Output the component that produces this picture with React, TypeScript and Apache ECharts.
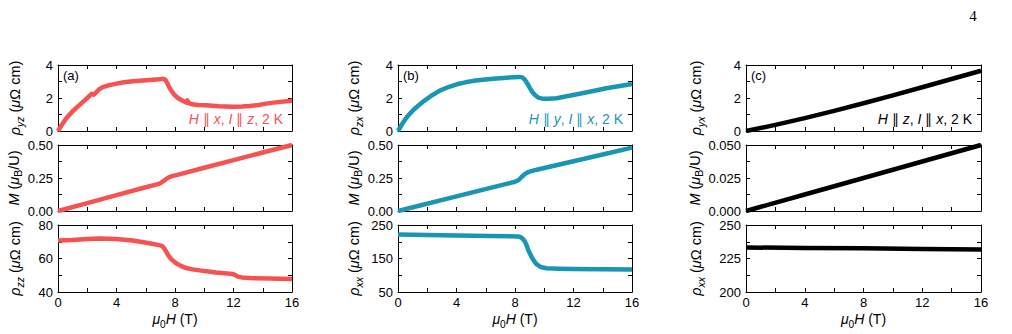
import React, { useEffect, useRef } from "react";
import * as echarts from "echarts";

// ---------- data (field in T, value) ----------
const rhoYZ_a: [number, number][] = [
  [0, 0], [0.15, 0.22], [0.3, 0.42], [0.57, 0.77], [1.0, 1.2], [1.48, 1.58], [2.0, 2.0], [2.3, 2.25], [2.45, 2.2],
  [2.6, 2.33], [2.8, 2.52], [3.07, 2.66], [3.5, 2.78], [4.0, 2.87], [4.5, 2.95], [5.13, 3.02], [6.26, 3.09],
  [6.95, 3.13], [7.2, 3.17], [7.35, 3.1], [7.5, 2.85], [7.63, 2.6], [7.8, 2.38], [7.97, 2.18], [8.2, 2.0],
  [8.43, 1.88], [8.77, 1.72], [8.85, 1.85], [8.95, 1.68], [9.2, 1.62], [9.6, 1.58], [10.1, 1.56],
  [11.0, 1.5], [11.96, 1.47], [12.6, 1.48], [13.1, 1.52], [13.7, 1.58], [14.24, 1.66], [15.0, 1.75], [16, 1.84],
];
const magX_a: [number, number][] = [
  [0, 0], [2, 0.06], [4, 0.12], [6, 0.18], [6.7, 0.2], [7.0, 0.21], [7.2, 0.226], [7.4, 0.243],
  [7.6, 0.256], [7.8, 0.264], [8.1, 0.272], [10, 0.328], [12, 0.385], [14, 0.443], [16, 0.5],
];
const rhoZZ_a: [number, number][] = [
  [0, 70.7], [1, 71.0], [2, 71.6], [2.85, 72.0], [4, 71.7], [5.1, 70.7], [6.26, 69.1], [7.06, 67.7],
  [7.2, 66.8], [7.35, 64.8], [7.52, 62.2], [7.74, 59.6], [8.08, 57.2], [8.4, 55.6], [8.77, 54.3],
  [9.2, 53.5], [9.68, 52.9], [10.8, 51.7], [11.96, 50.7], [12.1, 50.2], [12.3, 49.2], [12.6, 48.7],
  [13.1, 48.3], [14.5, 48.0], [16, 47.7],
];
const rhoZX_b: [number, number][] = [
  [0, 0], [0.2, 0.3], [0.39, 0.57], [0.6, 0.83], [0.84, 1.07], [1.05, 1.27], [1.3, 1.47], [1.75, 1.8],
  [2.3, 2.15], [2.89, 2.46], [3.5, 2.68], [4.02, 2.83], [4.6, 2.95], [5.16, 3.04], [6.3, 3.15],
  [7.43, 3.23], [8.3, 3.28], [8.5, 3.25], [8.68, 3.1], [8.85, 2.87], [9.02, 2.6], [9.2, 2.35],
  [9.4, 2.15], [9.6, 2.02], [9.93, 1.95], [10.3, 1.95], [10.84, 1.99], [11.98, 2.18], [13.1, 2.38],
  [14.25, 2.59], [16, 2.85],
];
const magY_b: [number, number][] = [
  [0, 0], [4, 0.111], [8, 0.222], [8.25, 0.235], [8.45, 0.258], [8.7, 0.282], [8.95, 0.297],
  [9.3, 0.308], [9.7, 0.318], [12, 0.377], [14, 0.428], [16, 0.48],
];
const rhoXX_b: [number, number][] = [
  [0, 222], [2, 220.5], [4.02, 218.6], [6.3, 217.3], [8.2, 216], [8.4, 213.5], [8.55, 208], [8.68, 200.5],
  [8.8, 189], [8.9, 175.7], [9.1, 158], [9.25, 146], [9.45, 134], [9.7, 126], [9.9, 123], [10.16, 120.8],
  [11, 119.5], [11.98, 118.8], [14, 118], [16, 117],
];
const rhoYX_c: [number, number][] = [
  [0, 0], [2, 0.37], [4, 0.78], [6, 1.22], [8, 1.68], [10, 2.16], [12, 2.65], [14, 3.15], [16, 3.65],
];
const magZ_c: [number, number][] = [
  [0, 0], [4, 0.0125], [8, 0.025], [12, 0.0375], [16, 0.05],
];
const rhoXX_c: [number, number][] = [
  [0, 233.2], [4, 232.9], [8, 232.6], [12, 232.0], [16, 231.7],
];

// axis ranges: [min, max, tick interval, label step]
const xRange = [0, 16, 2, 4];
const yRanges = [
  [[0, 4, 1, 2], [0, 0.5, 0.125, 0.25], [40, 80, 10, 20]],
  [[0, 4, 1, 2], [0, 0.5, 0.125, 0.25], [50, 250, 50, 100]],
  [[0, 4, 1, 2], [0, 0.05, 0.0125, 0.025], [200, 250, 12.5, 25]],
];
const labelDecimals = [[0, 2, 0], [0, 2, 0], [0, 3, 0]];

const panelLetters = ["(a)", "(b)", "(c)"];
const conditions = [
  "{i|H} {n|∥} {i|x}{n|, }{i|I} {n|∥} {i|z}{n|, 2 K}",
  "{i|H} {n|∥} {i|y}{n|, }{i|I} {n|∥} {i|x}{n|, 2 K}",
  "{i|H} {n|∥} {i|z}{n|, }{i|I} {n|∥} {i|x}{n|, 2 K}",
];
const yNames = [
  ["{i|ρ}{si|yz} {n|(}{i|μ}{n|Ω cm)}", "{i|M} {n|(}{i|μ}{sn|B}{n|/U)}", "{i|ρ}{si|zz} {n|(}{i|μ}{n|Ω cm)}"],
  ["{i|ρ}{si|zx} {n|(}{i|μ}{n|Ω cm)}", "{i|M} {n|(}{i|μ}{sn|B}{n|/U)}", "{i|ρ}{si|xx} {n|(}{i|μ}{n|Ω cm)}"],
  ["{i|ρ}{si|yx} {n|(}{i|μ}{n|Ω cm)}", "{i|M} {n|(}{i|μ}{sn|B}{n|/U)}", "{i|ρ}{si|xx} {n|(}{i|μ}{n|Ω cm)}"],
];
const xName = "{i|μ}{sn|0}{i|H} {n|(T)}";
const seriesData = [
  [rhoYZ_a, magX_a, rhoZZ_a],
  [rhoZX_b, magY_b, rhoXX_b],
  [rhoYX_c, magZ_c, rhoXX_c],
];
const colColors = ["#f75252", "#1996b1", "#000000"];

// ---------- layout ----------
const FONT = "'Liberation Sans', Arial, sans-serif";
const colLeft = [58, 398, 746];
const colWidth = [234, 234, 235];
const rowTop = [65, 145, 225];
const rowHeight = [66, 66, 67];
const yNameGap = [33, 34, 40];

const rich = (size: number, color: string) => ({
  i: { fontStyle: "italic", fontSize: size, fontFamily: FONT, color, lineHeight: 20 },
  n: { fontSize: size, fontFamily: FONT, color, lineHeight: 20 },
  si: { fontStyle: "italic", fontSize: size * 0.72, fontFamily: FONT, color, verticalAlign: "bottom", lineHeight: 20 },
  sn: { fontSize: size * 0.72, fontFamily: FONT, color, verticalAlign: "bottom", lineHeight: 20 },
});

function isMultiple(v: number, step: number, base: number) {
  const r = (v - base) / step;
  return Math.abs(r - Math.round(r)) < 1e-6;
}

export default function App() {
  const ref = useRef<HTMLDivElement>(null);
  useEffect(() => {
    document.body.style.margin = "0";
    const chart = echarts.init(ref.current!, null, { renderer: "svg" });
    const grids: any[] = [];
    const xAxes: any[] = [];
    const yAxes: any[] = [];
    const series: any[] = [];
    const graphics: any[] = [];
    const axisLine = { show: true, onZero: false, lineStyle: { color: "#000", width: 1 } };
    const axisTick = { show: true, inside: true, length: 4, lineStyle: { color: "#000", width: 1 } };

    for (let c = 0; c < 3; c++) {
      for (let r = 0; r < 3; r++) {
        const g = c * 3 + r;
        grids.push({ left: colLeft[c], top: rowTop[r], width: colWidth[c], height: rowHeight[r], containLabel: false });
        const [xmin, xmax, xint, xstep] = xRange;
        xAxes.push({
          gridIndex: g, type: "value", position: "bottom", min: xmin, max: xmax, interval: xint,
          axisLine, axisTick, splitLine: { show: false },
          axisLabel: {
            show: r === 2, margin: 4, color: "#000", fontSize: 13, fontFamily: FONT,
            formatter: (v: number) => (isMultiple(v, xstep, xmin) ? String(v) : ""),
          },
          name: r === 2 ? xName : "", nameLocation: "middle", nameGap: 17,
          nameTextStyle: { fontSize: 14, fontFamily: FONT, color: "#000", rich: rich(14, "#000") },
        });
        xAxes.push({
          gridIndex: g, type: "value", position: "top", min: xmin, max: xmax, interval: xint,
          axisLine, axisTick, splitLine: { show: false }, axisLabel: { show: false },
        });
        const [ymin, ymax, yint, ystep] = yRanges[c][r];
        const dec = labelDecimals[c][r];
        yAxes.push({
          gridIndex: g, type: "value", position: "left", min: ymin, max: ymax, interval: yint,
          axisLine, axisTick, splitLine: { show: false },
          axisLabel: {
            margin: 5, color: "#000", fontSize: 13, fontFamily: FONT,
            formatter: (v: number) => (isMultiple(v, ystep, ymin) ? v.toFixed(dec) : ""),
          },
          name: yNames[c][r], nameLocation: "middle", nameRotate: 90, nameGap: yNameGap[c],
          nameTextStyle: { fontSize: 14.5, fontFamily: FONT, color: "#000", rich: rich(14.5, "#000") },
        });
        yAxes.push({
          gridIndex: g, type: "value", position: "right", min: ymin, max: ymax, interval: yint,
          axisLine, axisTick, splitLine: { show: false }, axisLabel: { show: false },
        });
        series.push({
          type: "line", xAxisIndex: 2 * g, yAxisIndex: 2 * g, data: seriesData[c][r],
          showSymbol: false, smooth: false,
          lineStyle: { color: colColors[c], width: 4.5, join: "round", cap: "butt" }, itemStyle: { color: colColors[c] },
          clip: true, silent: true,
        });
      }
      graphics.push({
        type: "text", left: colLeft[c] + 5, top: rowTop[0] + 4,
        style: { text: panelLetters[c], fontSize: 13, fontFamily: FONT, fill: "#000" },
      });
      graphics.push({
        type: "text", x: colLeft[c] + colWidth[c] - 9, y: rowTop[0] + 54,
        style: {
          text: conditions[c], align: "right", verticalAlign: "middle", fontSize: 14, fontFamily: FONT,
          fill: colColors[c], rich: rich(14, colColors[c]),
        },
      });
    }
    graphics.push({
      type: "text", x: 973, y: 16,
      style: { text: "4", align: "center", verticalAlign: "middle", fontSize: 15, fontFamily: "'Liberation Serif', 'DejaVu Serif', serif", fill: "#000" },
    });

    chart.setOption({
      animation: false,
      backgroundColor: "#fff",
      grid: grids,
      xAxis: xAxes,
      yAxis: yAxes,
      series,
      graphic: graphics,
    });
    return () => chart.dispose();
  }, []);
  return <div ref={ref} style={{ position: "absolute", left: 0, top: 0, width: 1012, height: 334 }} />;
}
